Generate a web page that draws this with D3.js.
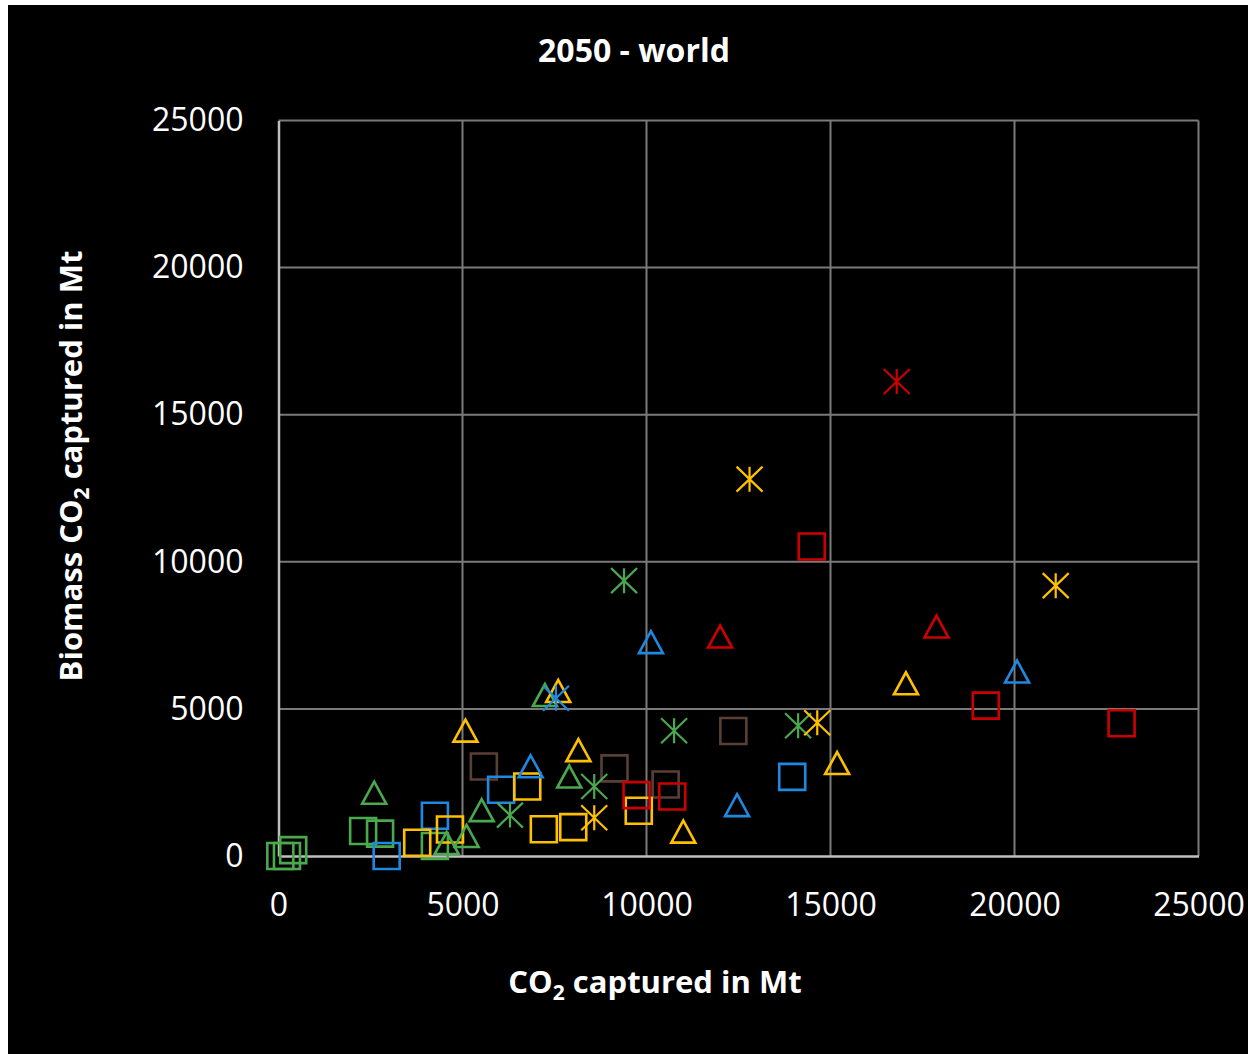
<!DOCTYPE html>
<html>
<head>
<meta charset="utf-8">
<script src="https://cdn.jsdelivr.net/npm/d3@7"></script>
<style>
  body { margin: 0; background: #fff; }
</style>
</head>
<body>
<div id="chart"></div>
<script>
// axis ticks
const xTicks = [0, 5000, 10000, 15000, 20000, 25000];
const yTicks = [0, 5000, 10000, 15000, 20000, 25000];

// points: [CO2 captured, biomass CO2 captured] in Mt
const greenSquares = [[50, 0], [230, 0], [400, 200], [2300, 850], [2760, 760], [4250, 340]];
const greenTriangles = [[2600, 2150], [4570, 440], [5110, 680], [5520, 1560], [7240, 5470], [7900, 2700]];
const greenStars = [[6290, 1390], [8580, 2360], [9390, 9360], [10750, 4260], [14120, 4430]];

const blueSquares = [[2940, 0], [4250, 1370], [6050, 2250], [13960, 2690]];
const blueTriangles = [[6850, 3050], [10120, 7270], [12460, 1730], [20070, 6270]];
const blueStars = [[7540, 5360]];

const yellowSquares = [[3770, 450], [4660, 900], [6760, 2360], [7210, 910], [8010, 980], [9790, 1540]];
const yellowTriangles = [[5080, 4260], [7600, 5610], [8150, 3600], [11000, 830], [15180, 3160], [17050, 5870]];
const yellowStars = [[8580, 1300], [12800, 12810], [14640, 4530], [21120, 9190]];

const redSquares = [[9730, 2070], [10700, 2020], [14490, 10520], [19220, 5110], [22910, 4510]];
const redTriangles = [[12000, 7460], [17880, 7800]];
const redStars = [[16800, 16130]];

const brownSquares = [[5580, 3040], [9130, 2980], [10520, 2430], [12360, 4250]];

const theme = {
    green: "#4aa84e",
    blue: "#1f88e0",
    yellow: "#ffc000",
    red: "#cc0000",
    brown: "#5a3f37",
    grid: "#7a7a7a",
    axis: "#c0c0c0",
    text: "#fff",
    font: "'Open Sans', sans-serif"
};

const series = [
    { data: greenSquares, color: theme.green, shape: "square" },
    { data: brownSquares, color: theme.brown, shape: "square" },
    { data: blueSquares, color: theme.blue, shape: "square" },
    { data: yellowSquares, color: theme.yellow, shape: "square" },
    { data: redSquares, color: theme.red, shape: "square" },
    { data: greenTriangles, color: theme.green, shape: "triangle" },
    { data: blueTriangles, color: theme.blue, shape: "triangle" },
    { data: yellowTriangles, color: theme.yellow, shape: "triangle" },
    { data: redTriangles, color: theme.red, shape: "triangle" },
    { data: greenStars, color: theme.green, shape: "star" },
    { data: blueStars, color: theme.blue, shape: "star" },
    { data: yellowStars, color: theme.yellow, shape: "star" },
    { data: redStars, color: theme.red, shape: "star" }
];

const shapes = {
    square: { d: "M-13,-13H13V13H-13Z", w: 2.6 },
    triangle: { d: "M0,-11L12,11H-12Z", w: 2.6 },
    star: { d: "M0,-12.5V12.5M-13,-12.5L13,12.5M-13,12.5L13,-12.5", w: 2.2 }
};

const W = 1248, H = 1054;
const svg = d3.select("#chart").append("svg")
    .attr("width", W)
    .attr("height", H);

svg.append("rect")
    .attr("x", 8).attr("y", 5)
    .attr("width", W - 8).attr("height", H - 5)
    .attr("fill", "#000");

const x = d3.scaleLinear().domain([0, 25000]).range([278.5, 1198.5]);
const y = d3.scaleLinear().domain([0, 25000]).range([856, 120.5]);

// grid lines
svg.append("g")
    .selectAll("line")
    .data(xTicks.slice(1))
    .join("line")
    .attr("x1", d => x(d)).attr("x2", d => x(d))
    .attr("y1", y(25000)).attr("y2", y(0))
    .attr("stroke", theme.grid)
    .attr("stroke-width", 2);

svg.append("g")
    .selectAll("line")
    .data(yTicks.slice(1))
    .join("line")
    .attr("x1", x(0)).attr("x2", x(25000))
    .attr("y1", d => y(d)).attr("y2", d => y(d))
    .attr("stroke", theme.grid)
    .attr("stroke-width", 2);

// axes
const xAxis = svg.append("g")
    .attr("transform", `translate(0,${y(0)})`)
    .call(d3.axisBottom(x).tickValues(xTicks).tickSize(0).tickPadding(37).tickFormat(d => d));
const yAxis = svg.append("g")
    .attr("transform", `translate(${x(0)},0)`)
    .call(d3.axisLeft(y).tickValues(yTicks).tickSize(0).tickPadding(35).tickFormat(d => d));

[xAxis, yAxis].forEach(a => {
    a.select(".domain").attr("stroke", theme.axis).attr("stroke-width", 2.5);
    a.selectAll("text")
        .attr("fill", theme.text)
        .style("font-family", theme.font)
        .style("font-size", "32px");
});

// markers
series.forEach(s => {
    svg.append("g")
        .selectAll("path")
        .data(s.data)
        .join("path")
        .attr("transform", d => `translate(${x(d[0])},${y(d[1])})`)
        .attr("d", shapes[s.shape].d)
        .attr("fill", "none")
        .attr("stroke", s.color)
        .attr("stroke-width", shapes[s.shape].w);
});

// title
svg.append("text")
    .attr("x", 634)
    .attr("y", 62)
    .attr("text-anchor", "middle")
    .attr("fill", theme.text)
    .style("font-family", theme.font)
    .style("font-weight", "bold")
    .style("font-size", "32px")
    .text("2050 - world");

// axis titles with subscript 2
function co2Label(sel, before, after) {
    sel.append("tspan").text(before + "CO");
    sel.append("tspan").attr("dy", 7).style("font-size", "21px").text("2");
    sel.append("tspan").attr("dy", -7).text(after);
}

const xTitle = svg.append("text")
    .attr("x", 655)
    .attr("y", 993)
    .attr("text-anchor", "middle")
    .attr("fill", theme.text)
    .style("font-family", theme.font)
    .style("font-weight", "bold")
    .style("font-size", "31px");
co2Label(xTitle, "", " captured in Mt");

const yTitle = svg.append("text")
    .attr("transform", "translate(82,466) rotate(-90)")
    .attr("text-anchor", "middle")
    .attr("fill", theme.text)
    .style("font-family", theme.font)
    .style("font-weight", "bold")
    .style("font-size", "31px");
co2Label(yTitle, "Biomass ", " captured in Mt");
</script>
</body>
</html>
